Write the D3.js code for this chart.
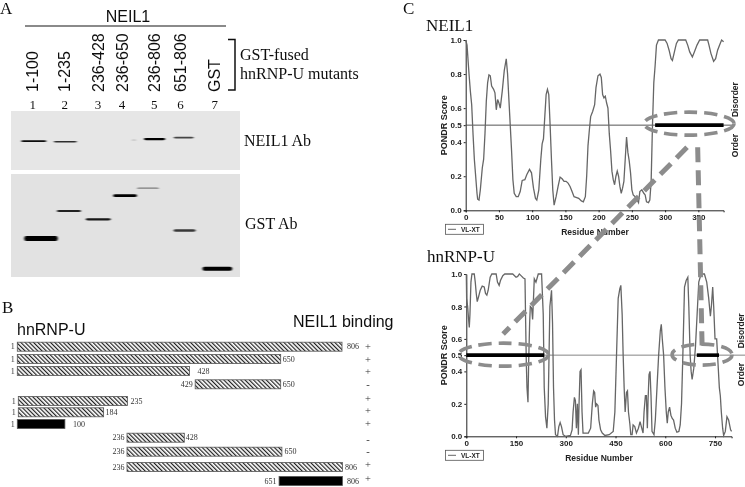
<!DOCTYPE html>
<html>
<head>
<meta charset="utf-8">
<script src="https://cdn.jsdelivr.net/npm/d3@7"></script>
<style>
  body { margin: 0; background: #fff; }
  svg { display: block; }
  .sans { font-family: "Liberation Sans", Arial, sans-serif; }
  .serif { font-family: "Liberation Serif", "Times New Roman", serif; }
  .pondr text { font-family: "Liberation Sans", Arial, sans-serif; font-weight: bold; font-size: 8px; fill: #222; }
</style>
</head>
<body>
<svg id="chart" width="745" height="487"></svg>
<script>
// panel A: lane labels and western blot bands
var laneLabels = ["1-100", "1-235", "236-428", "236-650", "236-806", "651-806", "GST"];
var laneNumbers = ["1", "2", "3", "4", "5", "6", "7"];
var laneCentres = [9.5, 23.5, 38, 48.5, 62.5, 74, 89]; // percent of blot width

var neil1BandFrom = [4.4, 18.6, 52.6, 58, 71];
var neil1BandTo = [15.5, 28.8, 54.8, 67.4, 79.8];
var neil1BandPos = [51, 52, 49, 47.5, 45];    // percent of blot height
var neil1BandThick = [1.8, 1.6, 1, 2.2, 1.8];
var neil1BandDark = [0.95, 0.8, 0.2, 1, 0.7];

var gstBandFrom = [5.8, 20, 32.6, 44.6, 55, 71, 83.6];
var gstBandTo = [20.4, 30.6, 43.6, 55, 64.6, 80.6, 96.6];
var gstBandPos = [62.7, 36, 44, 21, 13.8, 54.8, 92];
var gstBandThick = [5, 2, 2.2, 2.6, 1.2, 2.4, 3.8];
var gstBandDark = [1, 0.85, 0.9, 1, 0.45, 0.75, 1];

// panel B: hnRNP-U deletion constructs
var rowStart = ["1", "1", "1", "429", "1", "1", "1", "236", "236", "236", "651"];
var rowEnd = ["806", "650", "428", "650", "235", "184", "100", "428", "650", "806", "806"];
var rowBinding = ["+", "+", "+", "-", "+", "+", "+", "-", "-", "+", "+"];
var rowSolid = [false, false, false, false, false, false, true, false, false, false, true];
// the schematic is not to scale: where each bar is actually drawn, in residue units
var rowDrawnFrom = [1, 1, 1, 442, 3.5, 3.5, 1, 273, 273, 273, 650];
var rowDrawnTo = [806, 654, 428, 654, 274, 215, 119, 415, 657, 807, 807];

// panel C: PONDR VL-XT traces
var neil1Residue = [0, 2, 5, 7, 9, 11, 13, 15, 17, 18, 20, 22, 25, 27, 29, 31, 33, 35, 37, 39, 42, 44, 46, 48, 50, 52, 55, 58, 61, 63, 65, 67, 69, 71, 73, 76, 79, 82, 85, 89, 92, 96, 99, 102, 105, 107, 110, 113, 115, 117, 119, 121, 123, 125, 127, 129, 131, 133, 136, 139, 142, 145, 148, 151, 154, 157, 160, 163, 167, 170, 174, 177, 180, 182, 184, 186, 188, 191, 194, 196, 199, 202, 204, 206, 208, 210, 212, 214, 216, 218, 220, 222, 224, 226, 228, 230, 232, 234, 236, 238, 240, 242, 244, 246, 248, 250, 252, 255, 258, 260, 262, 265, 268, 270, 272, 275, 277, 279, 281, 283, 285, 287, 290, 295, 300, 303, 306, 309, 311, 314, 317, 320, 325, 331, 334, 337, 341, 344, 348, 352, 358, 364, 366, 369, 373, 376, 379, 382, 385, 388];
var neil1Score = [1, 0.97, 0.8, 0.7, 0.62, 0.45, 0.3, 0.2, 0.1, 0.065, 0.06, 0.12, 0.25, 0.3, 0.45, 0.64, 0.75, 0.795, 0.79, 0.73, 0.71, 0.69, 0.59, 0.65, 0.63, 0.6, 0.7, 0.82, 0.89, 0.8, 0.65, 0.5, 0.35, 0.18, 0.1, 0.08, 0.08, 0.11, 0.175, 0.18, 0.21, 0.24, 0.22, 0.13, 0.07, 0.06, 0.12, 0.3, 0.39, 0.42, 0.55, 0.68, 0.71, 0.68, 0.5, 0.3, 0.12, 0.03, 0.08, 0.14, 0.195, 0.185, 0.17, 0.17, 0.16, 0.14, 0.11, 0.08, 0.075, 0.07, 0.055, 0.05, 0.08, 0.2, 0.38, 0.47, 0.55, 0.58, 0.62, 0.72, 0.79, 0.8, 0.78, 0.68, 0.66, 0.67, 0.63, 0.6, 0.45, 0.35, 0.23, 0.18, 0.15, 0.2, 0.23, 0.2, 0.14, 0.1, 0.13, 0.17, 0.3, 0.43, 0.34, 0.29, 0.22, 0.12, 0.09, 0.08, 0.06, 0.045, 0.11, 0.12, 0.1, 0.09, 0.05, 0.045, 0.06, 0.17, 0.5, 0.75, 0.85, 0.97, 1, 1, 1, 0.98, 0.94, 0.89, 0.88, 0.93, 0.98, 1, 1, 1, 0.97, 0.93, 0.9, 0.93, 0.97, 1, 1, 1, 0.97, 0.92, 0.875, 0.89, 0.94, 0.97, 1, 0.99];

var hnrnpResidue = [0, 1, 4, 7, 9, 11, 14, 17, 24, 27, 30, 33, 37, 42, 48, 54, 58, 62, 66, 72, 77, 90, 94, 99, 103, 110, 116, 140, 150, 155, 160, 165, 172, 177, 179, 181, 183, 186, 188, 191, 193, 197, 200, 205, 210, 217, 227, 232, 235, 239, 243, 247, 252, 257, 260, 263, 266, 269, 275, 279, 283, 287, 292, 299, 314, 319, 322, 326, 329, 332, 335, 338, 340, 343, 346, 349, 352, 368, 375, 380, 384, 387, 390, 393, 397, 400, 405, 410, 418, 431, 443, 448, 453, 458, 463, 466, 470, 473, 476, 479, 483, 486, 489, 493, 496, 500, 503, 508, 513, 519, 524, 529, 533, 536, 540, 543, 546, 548, 551, 554, 557, 560, 566, 570, 575, 580, 585, 588, 591, 595, 599, 603, 606, 609, 613, 617, 621, 625, 630, 635, 641, 645, 649, 653, 658, 663, 668, 671, 675, 678, 681, 686, 691, 696, 701, 708, 718, 725, 731, 736, 739, 743, 746, 750, 755, 759, 763, 766, 769, 773, 776, 781, 786, 791, 797, 800];
var hnrnpScore = [1, 0.85, 0.8, 0.72, 0.67, 0.75, 0.95, 1, 1, 0.95, 0.88, 0.83, 0.86, 0.9, 0.925, 0.92, 0.88, 0.87, 0.9, 0.98, 1, 1, 0.95, 0.93, 0.96, 0.99, 1, 1, 0.98, 0.985, 1, 0.99, 0.975, 0.97, 0.7, 0.45, 0.3, 0.21, 0.45, 0.7, 0.8, 0.79, 0.72, 0.97, 0.95, 1, 1, 0.75, 0.3, 0.12, 0.05, 0.2, 0.8, 0.9, 0.7, 0.3, 0.1, 0.01, 0, 0.06, 0.085, 0.06, 0.01, 0, 0.005, 0.04, 0.15, 0.24, 0.22, 0.05, 0.2, 0.01, 0.2, 0.4, 0.41, 0.15, 0.02, 0.02, 0.05, 0.2, 0.28, 0.27, 0.18, 0.2, 0.19, 0.1, 0.04, 0.02, 0.005, 0.01, 0.03, 0.15, 0.5, 0.85, 0.91, 0.93, 0.75, 0.5, 0.3, 0.15, 0.27, 0.28, 0.15, 0.08, 0.01, 0.01, 0.07, 0.06, 0.02, 0.05, 0.09, 0.05, 0.02, 0.15, 0.25, 0.25, 0.05, 0.22, 0.38, 0.4, 0.25, 0.03, 0.01, 0.1, 0.3, 0.5, 0.65, 0.69, 0.6, 0.5, 0.3, 0.15, 0.08, 0.15, 0.18, 0.13, 0.11, 0.1, 0.05, 0.025, 0.03, 0.07, 0.2, 0.5, 0.92, 0.96, 0.98, 0.8, 0.5, 0.4, 0.35, 0.42, 0.55, 0.75, 0.95, 1, 1, 0.95, 0.85, 0.74, 0.8, 0.92, 0.8, 0.6, 0.6, 0.45, 0.3, 0.25, 0.15, 0.05, 0.005, 0.03, 0.12, 0.1, 0.04, 0.03];

var scoreTicks = [0, 0.2, 0.4, 0.5, 0.6, 0.8, 1];
var neil1Ticks = [0, 50, 100, 150, 200, 250, 300, 350];
var hnrnpTicks = [0, 150, 300, 450, 600, 750];
var neil1Bold = [285, 388];
var hnrnpBold = [[0, 235], [695, 762]];

// layout
var svg = d3.select("#chart");
var defs = svg.append("defs");
defs.append("filter").attr("id", "soft").attr("x", "-5%").attr("y", "-5%").attr("width", "110%").attr("height", "110%")
    .append("feGaussianBlur").attr("stdDeviation", 0.4);
defs.append("filter").attr("id", "band").attr("x", "-20%").attr("y", "-300%").attr("width", "140%").attr("height", "700%")
    .append("feGaussianBlur").attr("stdDeviation", "1.2 0.7");
var hatch = defs.append("pattern").attr("id", "hatch").attr("patternUnits", "userSpaceOnUse")
    .attr("width", 3).attr("height", 3).attr("patternTransform", "rotate(-45)");
hatch.append("rect").attr("width", 3).attr("height", 3).attr("fill", "#fff");
hatch.append("rect").attr("width", 1.2).attr("height", 3).attr("fill", "#222");

var root = svg.append("g").attr("filter", "url(#soft)");

function label(parent, cls, x, y, txt, size, anchor) {
    return parent.append("text")
        .attr("class", cls)
        .attr("x", x)
        .attr("y", y)
        .attr("font-size", size)
        .attr("text-anchor", anchor || "start")
        .attr("fill", "#111")
        .text(txt);
}

// ---- panel A
var a = root.append("g");
label(a, "serif", 0, 14, "A", 17);
label(a, "sans", 128, 22, "NEIL1", 16, "middle");
a.append("line").attr("x1", 25).attr("x2", 226).attr("y1", 26).attr("y2", 26).attr("stroke", "#111").attr("stroke-width", 1.2);

var blotX = d3.scaleLinear().domain([0, 100]).range([11, 240]);

a.selectAll(".laneLabel").data(laneLabels).enter().append("text")
    .attr("class", "sans")
    .attr("font-size", 16)
    .attr("fill", "#111")
    .attr("transform", function(d, i) { return "translate(" + (blotX(laneCentres[i]) + 5.5) + ",92) rotate(-90)"; })
    .text(function(d) { return d; });
a.selectAll(".laneNumber").data(laneNumbers).enter().append("text")
    .attr("class", "serif")
    .attr("font-size", 13)
    .attr("fill", "#111")
    .attr("text-anchor", "middle")
    .attr("x", function(d, i) { return blotX(laneCentres[i]); })
    .attr("y", 109)
    .text(function(d) { return d; });

a.append("path").attr("d", "M228,39.5H235V90H228").attr("fill", "none").attr("stroke", "#111").attr("stroke-width", 1.5);
label(a, "serif", 240, 60, "GST-fused", 16);
label(a, "serif", 240, 79, "hnRNP-U mutants", 16);
label(a, "serif", 244, 146, "NEIL1 Ab", 16);
label(a, "serif", 245, 229, "GST Ab", 16);

function drawBlot(blotTop, blotBottom, grey, from, to, pos, thick, dark) {
    var blotY = d3.scaleLinear().domain([0, 100]).range([blotTop, blotBottom]);
    a.append("rect").attr("x", blotX(0)).attr("y", blotTop).attr("width", blotX(100) - blotX(0)).attr("height", blotBottom - blotTop).attr("fill", grey);
    a.selectAll(null).data(pos).enter().append("rect")
        .attr("x", function(d, i) { return blotX(from[i]); })
        .attr("width", function(d, i) { return blotX(to[i]) - blotX(from[i]); })
        .attr("y", function(d, i) { return blotY(d) - thick[i] / 2; })
        .attr("height", function(d, i) { return thick[i]; })
        .attr("rx", 2)
        .attr("fill", "#000")
        .attr("opacity", function(d, i) { return dark[i]; })
        .attr("filter", "url(#band)");
}
drawBlot(111, 170, "#e6e6e6", neil1BandFrom, neil1BandTo, neil1BandPos, neil1BandThick, neil1BandDark);
drawBlot(174, 277, "#e2e2e2", gstBandFrom, gstBandTo, gstBandPos, gstBandThick, gstBandDark);

// ---- panel B
var b = root.append("g");
label(b, "serif", 2, 313, "B", 17);
label(b, "sans", 17, 335, "hnRNP-U", 16);
label(b, "sans", 293, 327, "NEIL1 binding", 16);

var barX = d3.scaleLinear().domain([1, 806]).range([17.3, 342]);
var rowY = [346.7, 359, 371, 384.3, 401, 412.3, 424, 437.7, 451.7, 467, 481];
var bindingY = [346.7, 359.7, 372.3, 385, 399, 410.5, 424.3, 439.7, 452.3, 465, 479];
var rowEndGap = [5, 2, 8, 2, 3, 2, 8, 1.5, 2.5, 2.5, 4.5];

b.selectAll(".bar").data(rowStart).enter().append("rect")
    .attr("x", function(d, i) { return barX(rowDrawnFrom[i]); })
    .attr("width", function(d, i) { return barX(rowDrawnTo[i]) - barX(rowDrawnFrom[i]); })
    .attr("y", function(d, i) { return rowY[i] - 4.5; })
    .attr("height", 9)
    .attr("fill", function(d, i) { return rowSolid[i] ? "#000" : "url(#hatch)"; })
    .attr("stroke", "#555")
    .attr("stroke-width", 0.8);
b.selectAll(".start").data(rowStart).enter().append("text")
    .attr("class", "serif")
    .attr("font-size", 8)
    .attr("fill", "#333")
    .attr("text-anchor", "end")
    .attr("x", function(d, i) { return barX(rowDrawnFrom[i]) - 2.5; })
    .attr("y", function(d, i) { return rowY[i] + 2.5; })
    .text(function(d) { return d; });
b.selectAll(".end").data(rowEnd).enter().append("text")
    .attr("class", "serif")
    .attr("font-size", 8)
    .attr("fill", "#333")
    .attr("x", function(d, i) { return barX(rowDrawnTo[i]) + rowEndGap[i]; })
    .attr("y", function(d, i) { return rowY[i] + 2.5; })
    .text(function(d) { return d; });
b.selectAll(".binding").data(rowBinding).enter().append("text")
    .attr("class", "serif")
    .attr("font-size", 10.5)
    .attr("fill", "#333")
    .attr("text-anchor", "middle")
    .attr("x", 368)
    .attr("y", function(d, i) { return bindingY[i] + 3; })
    .text(function(d) { return d; });

// ---- panel C
var c = root.append("g");
label(c, "serif", 403, 14, "C", 17);
label(c, "serif", 426, 31, "NEIL1", 17);
label(c, "serif", 427, 262, "hnRNP-U", 17);

function drawPondr(opts) {
    var x = d3.scaleLinear().domain(opts.domain).range([opts.left, opts.right]);
    var y = d3.scaleLinear().domain([0, 1]).range([opts.bottom, opts.top]);
    var g = c.append("g").attr("class", "pondr");

    var xAxis = g.append("g").attr("transform", "translate(0," + opts.bottom + ")")
        .call(d3.axisBottom(x).tickValues(opts.ticks).tickSize(2).tickPadding(2).tickFormat(d3.format("d")));
    var yAxis = g.append("g").attr("transform", "translate(" + opts.left + ",0)")
        .call(d3.axisLeft(y).tickValues(scoreTicks).tickSize(2).tickPadding(2).tickFormat(d3.format(".1f")));
    xAxis.selectAll("path,line").attr("stroke", "#222");
    yAxis.selectAll("path,line").attr("stroke", "#222");

    g.append("line").attr("x1", opts.left).attr("x2", opts.midEnd)
        .attr("y1", y(0.5)).attr("y2", y(0.5))
        .attr("stroke", opts.midColour).attr("stroke-width", 0.9);

    var line = d3.line()
        .x(function(d, i) { return x(opts.residue[i]); })
        .y(function(d) { return y(d); });
    g.append("path").datum(opts.score)
        .attr("fill", "none").attr("stroke", "#666").attr("stroke-width", 1.3)
        .attr("d", line);

    opts.bold.forEach(function(r) {
        g.append("line").attr("x1", x(r[0])).attr("x2", x(r[1]))
            .attr("y1", y(0.5)).attr("y2", y(0.5))
            .attr("stroke", "#000").attr("stroke-width", 3.6);
    });

    g.append("text").attr("text-anchor", "middle")
        .attr("transform", "translate(447," + y(0.5) + ") rotate(-90)")
        .style("font-size", "9px").text("PONDR Score");
    g.append("text").attr("text-anchor", "middle")
        .attr("x", opts.titleX).attr("y", opts.bottom + 24.5)
        .style("font-size", "8.5px").text("Residue Number");
    g.append("text").attr("text-anchor", "middle")
        .attr("transform", "translate(" + opts.sideX + "," + y(0.65) + ") rotate(-90)")
        .style("font-size", "8.5px").text("Disorder");
    g.append("text").attr("text-anchor", "middle")
        .attr("transform", "translate(" + opts.sideX + "," + y(0.38) + ") rotate(-90)")
        .style("font-size", "8.5px").text("Order");

    // small legend box
    var ly = opts.bottom + 14;
    g.append("rect").attr("x", 445.5).attr("y", ly).attr("width", 38).attr("height", 10)
        .attr("fill", "#fff").attr("stroke", "#555").attr("stroke-width", 0.8);
    g.append("line").attr("x1", 448).attr("x2", 456).attr("y1", ly + 5).attr("y2", ly + 5)
        .attr("stroke", "#666");
    g.append("text").attr("x", 461).attr("y", ly + 7.5).style("font-size", "6.5px").text("VL-XT");

    return { x: x, y: y };
}

var neil1Plot = drawPondr({
    domain: [0, 388], left: 465.7, right: 723.6, top: 40, bottom: 210.3,
    ticks: neil1Ticks, residue: neil1Residue, score: neil1Score,
    bold: [neil1Bold], midEnd: 735, midColour: "#444", titleX: 595, sideX: 738
});
var hnrnpPlot = drawPondr({
    domain: [0, 800], left: 466.3, right: 731.6, top: 274, bottom: 436.3,
    ticks: hnrnpTicks, residue: hnrnpResidue, score: hnrnpScore,
    bold: hnrnpBold, midEnd: 745, midColour: "#777", titleX: 599, sideX: 744
});

// dashed grey call-outs joining the disordered stretches
var callouts = c.append("g").attr("fill", "none").attr("stroke", "#8c8c8c").attr("stroke-linecap", "butt");
function callout(cx, cy, rx, ry) {
    callouts.append("ellipse")
        .attr("cx", cx).attr("cy", cy).attr("rx", rx).attr("ry", ry)
        .attr("stroke-width", 3.6).attr("stroke-dasharray", "13 7");
}
callout(neil1Plot.x(336), neil1Plot.y(0.5) - 1.5, 45, 11.5);
callout(hnrnpPlot.x(112), hnrnpPlot.y(0.5) - 0.5, 45, 11.5);
callout(hnrnpPlot.x(711), hnrnpPlot.y(0.5) - 0.5, 30, 10.5);
callouts.append("line")
    .attr("x1", neil1Plot.x(333)).attr("y1", neil1Plot.y(0.37))
    .attr("x2", hnrnpPlot.x(111)).attr("y2", hnrnpPlot.y(0.63))
    .attr("stroke-width", 5).attr("stroke-dasharray", "15 8");
callouts.append("line")
    .attr("x1", neil1Plot.x(349)).attr("y1", neil1Plot.y(0.37))
    .attr("x2", hnrnpPlot.x(711)).attr("y2", hnrnpPlot.y(0.56))
    .attr("stroke-width", 5).attr("stroke-dasharray", "15 8");
</script>
</body>
</html>
